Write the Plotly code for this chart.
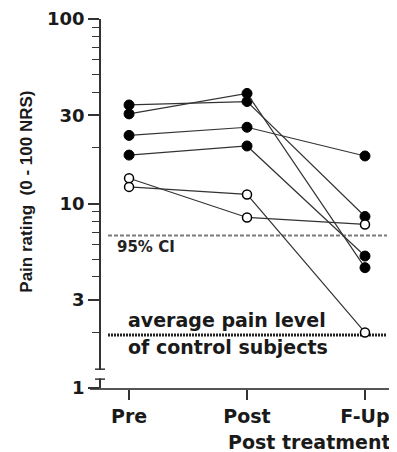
import plotly.graph_objects as go

# ---- data ----
categories = ["Pre", "Post", "F-Up"]
subj1 = [34.2, 35.7, 8.5]    # filled
subj2 = [30.6, 39.5, 4.49]   # filled
subj3 = [23.4, 25.9, 18.1]   # filled
subj4 = [18.3, 20.5, 5.19]   # filled
subj5 = [13.7, 8.4, 7.7]     # open
subj6 = [12.3, 11.2, 2.0]    # open
filled_series = [subj1, subj2, subj3, subj4]
open_series = [subj5, subj6]
ci95_level = 6.7
control_level = 1.94
y_tickvals = [1, 3, 10, 30, 100]
y_ticktext = ["1", "3", "10", "30", "100"]
y_minor = [2, 4, 5, 6, 7, 8, 9, 20, 40, 50, 60, 70, 80, 90]

xpos = list(range(len(categories)))
BOLD = "DejaVu Sans"

fig = go.Figure()
for s in filled_series:
    fig.add_trace(go.Scatter(
        x=xpos, y=s, mode="lines+markers",
        line=dict(color="#333333", width=1.2),
        marker=dict(symbol="circle", size=10, color="black",
                    line=dict(color="black", width=1)),
        showlegend=False, cliponaxis=False))
for s in open_series:
    fig.add_trace(go.Scatter(
        x=xpos, y=s, mode="lines+markers",
        line=dict(color="#333333", width=1.2),
        marker=dict(symbol="circle", size=9, color="white",
                    line=dict(color="black", width=1.5)),
        showlegend=False, cliponaxis=False))

# reference lines
fig.add_shape(type="line", xref="paper", yref="y", x0=0.06, x1=0.99,
              y0=ci95_level, y1=ci95_level,
              line=dict(color="#7a7a7a", width=2, dash="4px,2px"), layer="below")
fig.add_shape(type="line", xref="paper", yref="y", x0=0.06, x1=0.99,
              y0=control_level, y1=control_level,
              line=dict(color="#222222", width=3, dash="2px,1px"), layer="below")

# axis break on the y axis
fig.add_shape(type="rect", xref="paper", yref="paper", x0=0.02, x1=0.05,
              y0=0.026, y1=0.049, fillcolor="white", line=dict(width=0))
for yb in (0.051, 0.024):
    fig.add_shape(type="line", xref="paper", yref="paper", x0=0.0167, x1=0.05,
                  y0=yb, y1=yb, line=dict(color="#333333", width=1.5))

# annotations
fig.add_annotation(text="95% CI", xref="paper", yref="paper", x=0.083, y=0.382,
                   xanchor="left", yanchor="middle", showarrow=False,
                   font=dict(family=BOLD, size=15, color="#222222", weight="bold"))
fig.add_annotation(text="average pain level", xref="paper", yref="paper", x=0.12, y=0.183,
                   xanchor="left", yanchor="middle", showarrow=False,
                   font=dict(family=BOLD, size=19, color="#1a1a1a", weight="bold"))
fig.add_annotation(text="of control subjects", xref="paper", yref="paper", x=0.12, y=0.110,
                   xanchor="left", yanchor="middle", showarrow=False,
                   font=dict(family=BOLD, size=19, color="#1a1a1a", weight="bold"))
fig.add_annotation(text="Post treatment", xref="paper", yref="paper", x=1.01, y=-0.145,
                   xanchor="right", yanchor="middle", showarrow=False,
                   font=dict(family=BOLD, size=19, color="#1a1a1a", weight="bold"))
fig.add_annotation(text="Pain rating  (0 - 100 NRS)", xref="paper", yref="paper",
                   x=-0.21, y=0.532, xanchor="center", yanchor="middle", textangle=-90,
                   showarrow=False,
                   font=dict(family="Liberation Sans", size=17, color="#1a1a1a", weight="bold"))

# page body has an 8px margin, so the figure is sized/offset to compensate
fig.update_layout(
    width=389, height=444,
    margin=dict(l=82, r=7, t=11, b=64, autoexpand=False),
    plot_bgcolor="white", paper_bgcolor="white",
    xaxis=dict(
        range=[-0.331, 2.212], tickvals=xpos, ticktext=categories, automargin=False,
        showgrid=False, zeroline=False, showline=True, linecolor="#555555", linewidth=2,
        ticks="outside", ticklen=10, tickwidth=1.5, tickcolor="#333333",
        tickfont=dict(family=BOLD, size=19, color="#1a1a1a", weight="bold"),
    ),
    yaxis=dict(
        type="log", range=[0, 2], tickvals=y_tickvals, ticktext=y_ticktext,
        anchor="free", position=0.0333, ticklabeloverflow="allow", automargin=False,
        showgrid=False, zeroline=False, showline=True, linecolor="#333333", linewidth=1.5,
        ticks="outside", ticklen=11, tickwidth=1.5, tickcolor="#333333",
        tickfont=dict(family=BOLD, size=18, color="#1a1a1a", weight="bold"),
        minor=dict(tickvals=y_minor, ticks="outside", ticklen=7, tickwidth=1.2,
                   tickcolor="#333333", showgrid=False),
    ),
)

fig.write_html("out.html")
